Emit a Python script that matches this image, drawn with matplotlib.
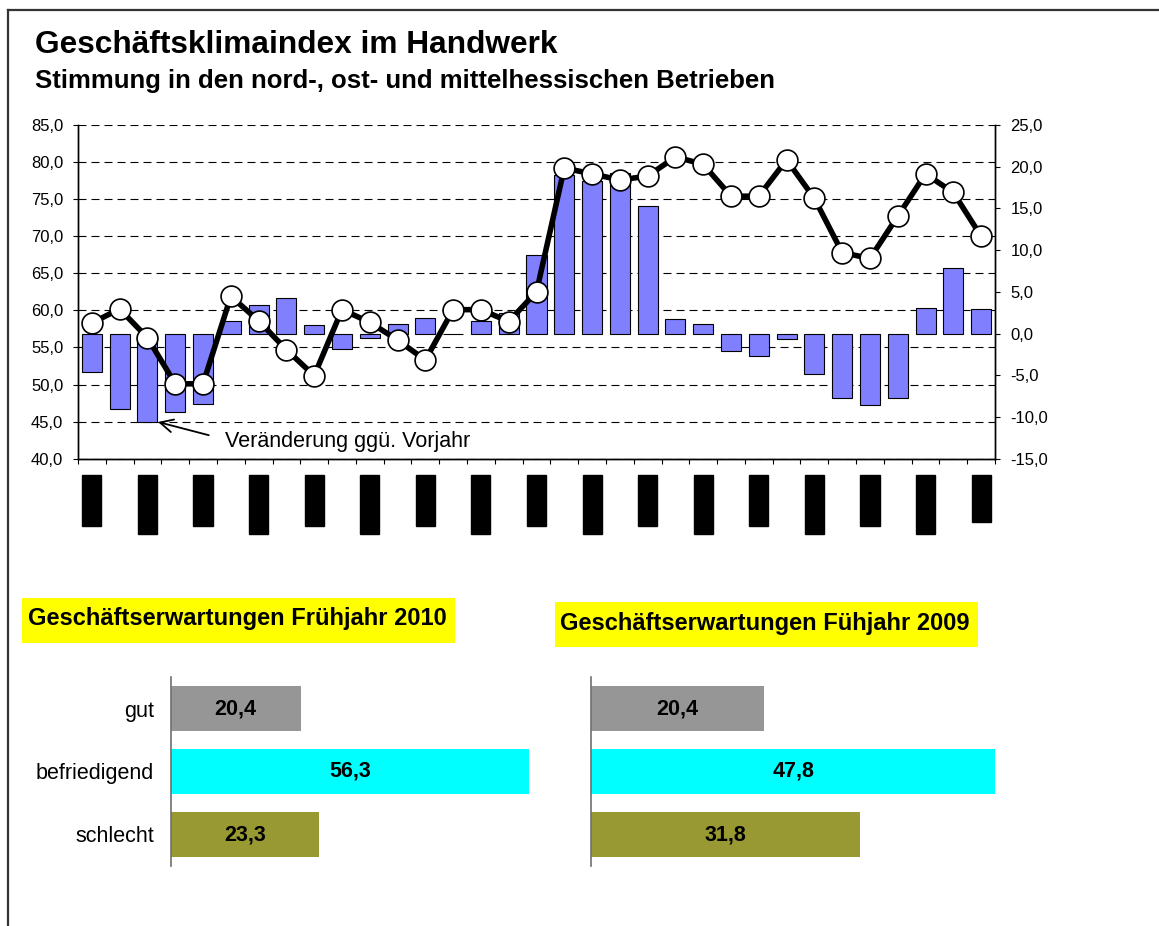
import matplotlib
matplotlib.use("Agg")
import numpy as np
import matplotlib.pyplot as plt
from matplotlib.patches import Rectangle
from matplotlib.lines import Line2D

plt.rcParams["font.family"] = ["Liberation Sans", "DejaVu Sans"]

# Geschaeftsklimaindex (linke Achse) und Veraenderung ggue. Vorjahr (rechte Achse)
index_werte = [58.3, 60.2, 56.3, 50.1, 50.1, 61.9, 58.6, 54.7, 51.2, 60.1, 58.4,
               56.0, 53.3, 60.1, 60.1, 58.5, 62.5, 79.2, 78.4, 77.6, 78.1, 80.7,
               79.7, 75.4, 75.4, 80.3, 75.1, 67.8, 67.0, 72.7, 78.4, 75.9, 70.0]
veraenderung = [-4.6, -9.1, -10.6, -9.4, -8.4, 1.5, 3.4, 4.3, 1.0, -1.9, -0.5,
                1.2, 1.9, 0.0, 1.5, 2.5, 9.4, 19.0, 18.3, 19.2, 15.3, 1.7,
                1.2, -2.1, -2.7, -0.7, -4.8, -7.7, -8.6, -7.7, 3.1, 7.9, 2.9]
# Achsenbeschriftung (jede zweite Kategorie)
x_labels = ["Herbst 01", "Frühjahr 02", "Herbst 02", "Frühjahr 03", "Herbst 03",
            "Frühjahr 04", "Herbst 04", "Frühjahr 05", "Herbst 05", "Frühjahr 06",
            "Herbst 06", "Frühjahr 07", "Herbst 07", "Frühjahr 08", "Herbst 08",
            "Frühjahr 09", "Frühj. 10"]

left_ticks = [40, 45, 50, 55, 60, 65, 70, 75, 80, 85]
right_ticks = [-15, -10, -5, 0, 5, 10, 15, 20, 25]

# Geschaeftserwartungen
kategorien = ["gut", "befriedigend", "schlecht"]
werte_2010 = [20.4, 56.3, 23.3]
werte_2009 = [20.4, 47.8, 31.8]
farben = ["#969696", "#00FFFF", "#999933"]


def komma(v):
    return f"{v:.1f}".replace(".", ",")


W, H = 1159, 926
fig = plt.figure(figsize=(W / 100, H / 100), dpi=100)


def px_axes(left, top, width, height):
    return fig.add_axes([left / W, 1 - (top + height) / H, width / W, height / H])


# border of the sheet
fig.add_artist(Line2D([7.5 / W, 7.5 / W], [0, 1 - 9.5 / H], color="#333333", lw=1.6))
fig.add_artist(Line2D([7.5 / W, 1], [1 - 9.5 / H, 1 - 9.5 / H], color="#333333", lw=1.6))

fig.text(35 / W, 1 - 53 / H, "Geschäftsklimaindex im Handwerk",
         fontsize=22.8, fontweight="bold", va="baseline")
fig.text(35 / W, 1 - 88 / H, "Stimmung in den nord-, ost- und mittelhessischen Betrieben",
         fontsize=18.5, fontweight="bold", va="baseline")

# --- main chart ---
ax = px_axes(78, 125, 917, 333.7)
ax2 = ax.twinx()
x = np.arange(len(index_werte))

ax2.bar(x, veraenderung, width=0.72, color="#8080FF", edgecolor="black",
        linewidth=0.8, zorder=2)
ax2.plot(x, index_werte, transform=ax.transData, color="black", lw=4,
         marker="o", ms=15, mfc="white", mec="black", mew=1.2, zorder=3,
         clip_on=False)

ax.set_xlim(-0.5, len(x) - 0.5)
ax.set_ylim(40, 85)
ax2.set_ylim(-15, 25)
ax.set_yticks(left_ticks)
ax.set_yticklabels([komma(v) for v in left_ticks])
ax2.set_yticks(right_ticks)
ax2.set_yticklabels([komma(v) for v in right_ticks])
ax.grid(axis="y", color="black", lw=0.8, linestyle=(0, (7.2, 4.5)))
ax.set_axisbelow(True)

for a in (ax, ax2):
    a.spines["top"].set_visible(False)
    for s in ("left", "right", "bottom"):
        a.spines[s].set_linewidth(1.0)
ax.tick_params(axis="y", direction="out", length=3.6, width=0.8, labelsize=12, pad=7)
ax2.tick_params(axis="y", direction="out", length=3.6, width=0.8, labelsize=12, pad=7.5)

ax.set_xticks(np.arange(-0.5, len(x), 1))
ax.set_xticklabels([])
ax.set_xticks(x[::2], minor=True)
ax.set_xticklabels(x_labels, minor=True, rotation=90, fontsize=7, color="black")
ax.tick_params(axis="x", which="major", direction="out", length=3.6, width=0.8)
ax.tick_params(axis="x", which="minor", length=0, pad=15)
for lbl in ax.get_xticklabels(minor=True):
    lbl.set_bbox(dict(facecolor="black", edgecolor="black", boxstyle="square,pad=0.47"))

ax2.annotate("Veränderung ggü. Vorjahr", xy=(2 + 0.38, veraenderung[2]),
             xytext=(4.79, -13.6), textcoords="data", ha="left", va="baseline",
             fontsize=15.5,
             arrowprops=dict(arrowstyle="->,head_length=0.6,head_width=0.3",
                             color="black", lw=1.3, relpos=(0, 0.6),
                             shrinkA=10, shrinkB=0))

# --- Geschaeftserwartungen ---
fig.patches.append(Rectangle((22 / W, 1 - 643 / H), 433 / W, 45 / H,
                             transform=fig.transFigure, facecolor="#FFFF00",
                             edgecolor="none"))
fig.text(28 / W, 1 - 625 / H, "Geschäftserwartungen Frühjahr 2010",
         fontsize=17, fontweight="bold", va="baseline")
fig.patches.append(Rectangle((555 / W, 1 - 647 / H), 423 / W, 45 / H,
                             transform=fig.transFigure, facecolor="#FFFF00",
                             edgecolor="none"))
fig.text(560 / W, 1 - 630 / H, "Geschäftserwartungen Fühjahr 2009",
         fontsize=17, fontweight="bold", va="baseline")


def erwartungen(a, werte, xmax, labels):
    y = np.arange(len(werte))
    a.barh(y, werte, height=0.706, color=farben)
    a.set_xlim(0, xmax)
    a.set_ylim(len(werte) - 0.5, -0.5)
    for s in ("top", "right", "bottom"):
        a.spines[s].set_visible(False)
    a.spines["left"].set_color("#707070")
    a.spines["left"].set_linewidth(1.2)
    a.set_xticks([])
    a.set_yticks(y)
    a.set_yticklabels(kategorien if labels else [])
    a.tick_params(axis="y", length=0, labelsize=15.5, pad=12)
    for yi, v in zip(y, werte):
        a.text(v / 2, yi, komma(v), ha="center", va="center",
               fontsize=15.5, fontweight="bold")


axL = px_axes(170.7, 677, 382, 189)
erwartungen(axL, werte_2010, 60, True)
axR = px_axes(591, 677, 423, 189)
erwartungen(axR, werte_2009, 50, False)

fig.savefig("out.png", dpi=100, facecolor="white")
